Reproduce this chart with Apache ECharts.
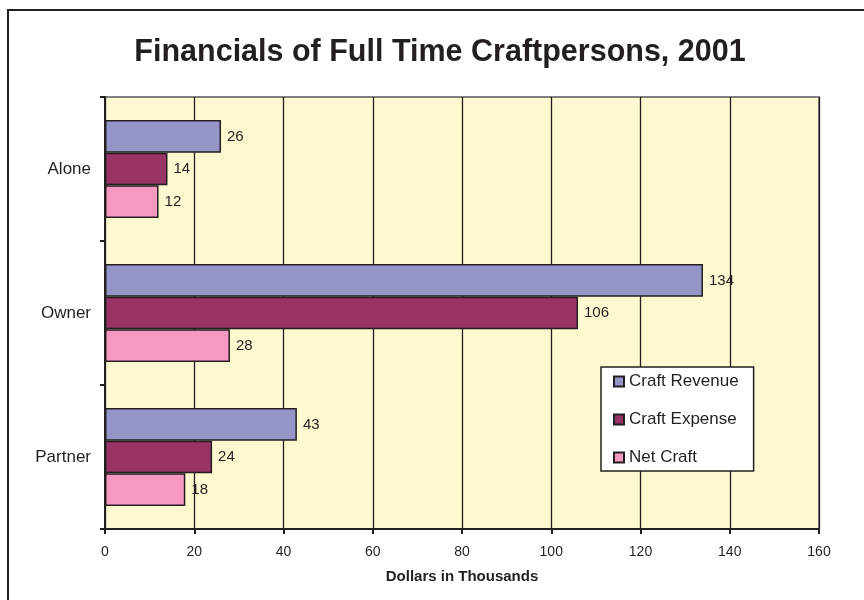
<!DOCTYPE html>
<html><head><meta charset="utf-8">
<script src="https://cdn.jsdelivr.net/npm/echarts@6/dist/echarts.min.js"></script>
<style>html,body{margin:0;padding:0;background:#fff}#c{width:864px;height:600px}</style>
</head><body><div id="c"></div>
<script>
const categories = ['Alone', 'Owner', 'Partner'];
const seriesNames = ['Craft Revenue', 'Craft Expense', 'Net Craft'];
const revenue = [26, 134, 43];
const expense = [14, 106, 24];
const netCraft = [12, 28, 18];
const xTicks = { min: 0, max: 160, interval: 20 };
const colors = ['#9595c8', '#993366', '#f599c0'];
const values = [revenue, expense, netCraft];
const F = 'Liberation Sans, Arial, sans-serif';
const dark = '#231f20';

const chart = echarts.init(document.getElementById('c'));
chart.setOption({
  animation: false,
  textStyle: { fontFamily: F },
  title: {
    text: 'Financials of Full Time Craftpersons, 2001',
    left: 440, top: 37, textAlign: 'center', padding: 0,
    textStyle: { fontFamily: F, fontSize: 30.5, fontWeight: 'bold', color: dark }
  },
  graphic: [{
    type: 'rect', shape: { x: 8, y: 10, width: 900, height: 700 },
    style: { fill: 'none', stroke: dark, lineWidth: 2 }, silent: true, z: -1
  }],
  grid: {
    left: 105, right: 45, top: 97, bottom: 71,
    show: true, backgroundColor: '#fcf8cf', borderColor: '#808080', borderWidth: 2
  },
  legend: {
    orient: 'vertical', left: 601, top: 367,
    data: seriesNames,
    backgroundColor: '#ffffff', borderColor: dark, borderWidth: 1.5,
    padding: [6, 15, 5, 12], itemGap: 21, itemWidth: 10, itemHeight: 10,
    icon: 'rect',
    textStyle: { fontFamily: F, fontSize: 17, color: dark }
  },
  xAxis: {
    type: 'value', min: xTicks.min, max: xTicks.max, interval: xTicks.interval,
    name: 'Dollars in Thousands', nameLocation: 'middle', nameGap: 40,
    nameTextStyle: { fontFamily: F, fontSize: 15, fontWeight: 'bold', color: dark },
    axisLine: { show: true, lineStyle: { color: dark, width: 2 } },
    axisTick: { show: true, length: 5, lineStyle: { color: dark, width: 2 } },
    axisLabel: { margin: 16, fontSize: 14, color: dark, fontFamily: F },
    splitLine: { show: true, lineStyle: { color: dark, width: 1.3 } }
  },
  yAxis: {
    type: 'category', data: categories, inverse: true,
    axisLine: { show: true, lineStyle: { color: dark, width: 2 } },
    axisTick: { show: true, length: 5, lineStyle: { color: dark, width: 2 } },
    axisLabel: { margin: 14, fontSize: 17, color: dark, fontFamily: F },
    splitLine: { show: false }
  },
  series: seriesNames.map((n, i) => ({
    name: n, type: 'bar', data: values[i],
    barGap: '0%', barCategoryGap: '32%',
    itemStyle: { color: colors[i], borderColor: dark, borderWidth: 1.5 },
    label: { show: true, position: 'right', distance: 6, fontSize: 15, color: dark, fontFamily: F }
  }))
});
</script></body></html>
